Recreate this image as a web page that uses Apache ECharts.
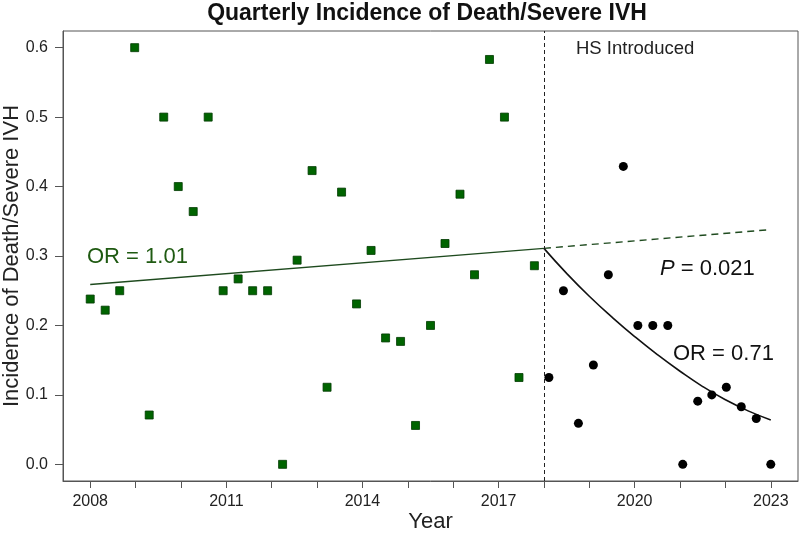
<!DOCTYPE html>
<html>
<head>
<meta charset="utf-8">
<title>Quarterly Incidence of Death/Severe IVH</title>
<script src="https://cdn.jsdelivr.net/npm/echarts@6/dist/echarts.min.js"></script>
<style>
  html, body { margin: 0; padding: 0; background: #fff; }
  #chart { width: 800px; height: 538px; }
</style>
</head>
<body>
<div id="chart"></div>
<script>
// pre-intervention quarters (green squares)
const preYears = [2008.00, 2008.33, 2008.65, 2008.98, 2009.30, 2009.62, 2009.94, 2010.27, 2010.60, 2010.93,
  2011.26, 2011.58, 2011.91, 2012.24, 2012.56, 2012.89, 2013.22, 2013.54, 2013.87, 2014.19,
  2014.51, 2014.84, 2015.17, 2015.50, 2015.82, 2016.15, 2016.47, 2016.80, 2017.13, 2017.45, 2017.79]
const preRates = [0.238, 0.222, 0.250, 0.600, 0.071, 0.500, 0.400, 0.364, 0.500, 0.250,
  0.267, 0.250, 0.250, 0.000, 0.294, 0.423, 0.111, 0.392, 0.231, 0.308,
  0.182, 0.177, 0.056, 0.200, 0.318, 0.389, 0.273, 0.583, 0.500, 0.125, 0.286]

// post-intervention quarters (black dots)
const postYears = [2018.11, 2018.43, 2018.76, 2019.09, 2019.42, 2019.75, 2020.07, 2020.40, 2020.73, 2021.06,
  2021.39, 2021.70, 2022.02, 2022.35, 2022.68, 2023.00]
const postRates = [0.125, 0.250, 0.059, 0.143, 0.273, 0.429, 0.200, 0.200, 0.200, 0.000,
  0.091, 0.100, 0.111, 0.083, 0.066, 0.000]

// fitted lines
const preFitYears = [2008, 2018]
const preFitRates = [0.259, 0.311]
const trendYears = [2018, 2023]
const trendRates = [0.311, 0.338]
const postFitYears = [2018, 2018.5, 2019, 2019.5, 2020, 2020.5, 2021, 2021.5, 2022, 2022.5, 2023]
const postFitRates = [0.311, 0.275, 0.242, 0.212, 0.184, 0.158, 0.134, 0.112, 0.093, 0.077, 0.064]

const introYear = 2018

// axis ticks
const xTickYears = [2008, 2009, 2010, 2011, 2012, 2013, 2014, 2015, 2016, 2017, 2018, 2019, 2020, 2021, 2022, 2023]
const xLabelYears = [2008, 2011, 2014, 2017, 2020, 2023]
const yTicks = [0, 0.1, 0.2, 0.3, 0.4, 0.5, 0.6]

const zip = (xs, ys) => xs.map((x, i) => [x, ys[i]])

const FONT = '"Liberation Sans", Arial, sans-serif'
const AXIS_COLOR = '#555'
const GREEN = '#006400'
const GREEN_LINE = '#1e4a1e'

const chart = echarts.init(document.getElementById('chart'), null, { renderer: 'canvas' })

chart.setOption({
  animation: false,
  backgroundColor: '#fff',
  textStyle: { fontFamily: FONT },
  grid: {
    left: 63,
    right: 2,
    top: 31,
    bottom: 57,
    containLabel: false,
    outerBoundsMode: 'none',
    show: true,
    borderColor: AXIS_COLOR,
    borderWidth: 1,
    backgroundColor: 'transparent'
  },
  xAxis: {
    type: 'value',
    min: 2007.4,
    max: 2023.6,
    name: 'Year',
    nameLocation: 'middle',
    nameGap: 30,
    nameMoveOverlap: false,
    nameTextStyle: { fontSize: 22, color: '#222', fontFamily: FONT },
    axisLine: { show: true, onZero: false, lineStyle: { color: AXIS_COLOR } },
    axisTick: { show: true, length: 7, customValues: xTickYears, lineStyle: { color: AXIS_COLOR } },
    axisLabel: {
      customValues: xLabelYears,
      fontSize: 16,
      color: '#222',
      margin: 13,
      fontFamily: FONT,
      formatter: v => String(v)
    },
    splitLine: { show: false }
  },
  yAxis: {
    type: 'value',
    min: -0.024,
    max: 0.624,
    name: 'Incidence of Death/Severe IVH',
    nameLocation: 'middle',
    nameRotate: 90,
    nameGap: 40,
    nameMoveOverlap: false,
    nameTextStyle: { fontSize: 22, color: '#222', fontFamily: FONT },
    axisLine: { show: true, onZero: false, lineStyle: { color: AXIS_COLOR } },
    axisTick: { show: true, length: 8, customValues: yTicks, lineStyle: { color: AXIS_COLOR } },
    axisLabel: {
      customValues: yTicks,
      fontSize: 16,
      color: '#222',
      margin: 15,
      fontFamily: FONT,
      formatter: v => v.toFixed(1)
    },
    splitLine: { show: false }
  },
  graphic: [
    {
      type: 'text', x: 427, y: 14,
      style: { text: 'Quarterly Incidence of Death/Severe IVH', font: 'bold 23px ' + FONT, fill: '#111', textAlign: 'center', textVerticalAlign: 'middle' }
    },
    {
      type: 'text', x: 576, y: 49,
      style: { text: 'HS Introduced', font: '18.5px ' + FONT, fill: '#222', textAlign: 'left', textVerticalAlign: 'middle' }
    },
    {
      type: 'text', x: 87, y: 257,
      style: { text: 'OR = 1.01', font: '22px ' + FONT, fill: '#1f5a12', textAlign: 'left', textVerticalAlign: 'middle' }
    },
    {
      type: 'text', x: 660, y: 269,
      style: {
        text: '{i|P} = 0.021',
        font: '22px ' + FONT,
        fill: '#111',
        textAlign: 'left',
        textVerticalAlign: 'middle',
        rich: { i: { fontStyle: 'italic', fontSize: 22, fontFamily: FONT, fill: '#111' } }
      }
    },
    {
      type: 'text', x: 673, y: 354,
      style: { text: 'OR = 0.71', font: '22px ' + FONT, fill: '#111', textAlign: 'left', textVerticalAlign: 'middle' }
    }
  ],
  series: [
    {
      name: 'Pre fit',
      type: 'line',
      data: zip(preFitYears, preFitRates),
      symbol: 'none',
      lineStyle: { color: GREEN_LINE, width: 1.4 },
      z: 2,
      markLine: {
        silent: true,
        symbol: ['none', 'none'],
        label: { show: false },
        lineStyle: { color: '#222', type: [4, 3], width: 1 },
        data: [{ xAxis: introYear }]
      }
    },
    {
      name: 'Projected trend',
      type: 'line',
      data: zip(trendYears, trendRates),
      symbol: 'none',
      lineStyle: { color: GREEN_LINE, width: 1.4, type: [7, 5] },
      z: 2
    },
    {
      name: 'Post fit',
      type: 'line',
      data: zip(postFitYears, postFitRates),
      smooth: true,
      symbol: 'none',
      lineStyle: { color: '#111', width: 1.6 },
      z: 2
    },
    {
      name: 'Pre',
      type: 'scatter',
      data: zip(preYears, preRates),
      symbol: 'rect',
      symbolSize: 8,
      itemStyle: { color: GREEN, borderColor: '#003a00', borderWidth: 0.8, opacity: 1 },
      z: 3
    },
    {
      name: 'Post',
      type: 'scatter',
      data: zip(postYears, postRates),
      symbol: 'circle',
      symbolSize: 9,
      itemStyle: { color: '#000', opacity: 1 },
      z: 3
    }
  ]
})

window.addEventListener('resize', () => chart.resize())
</script>
</body>
</html>
